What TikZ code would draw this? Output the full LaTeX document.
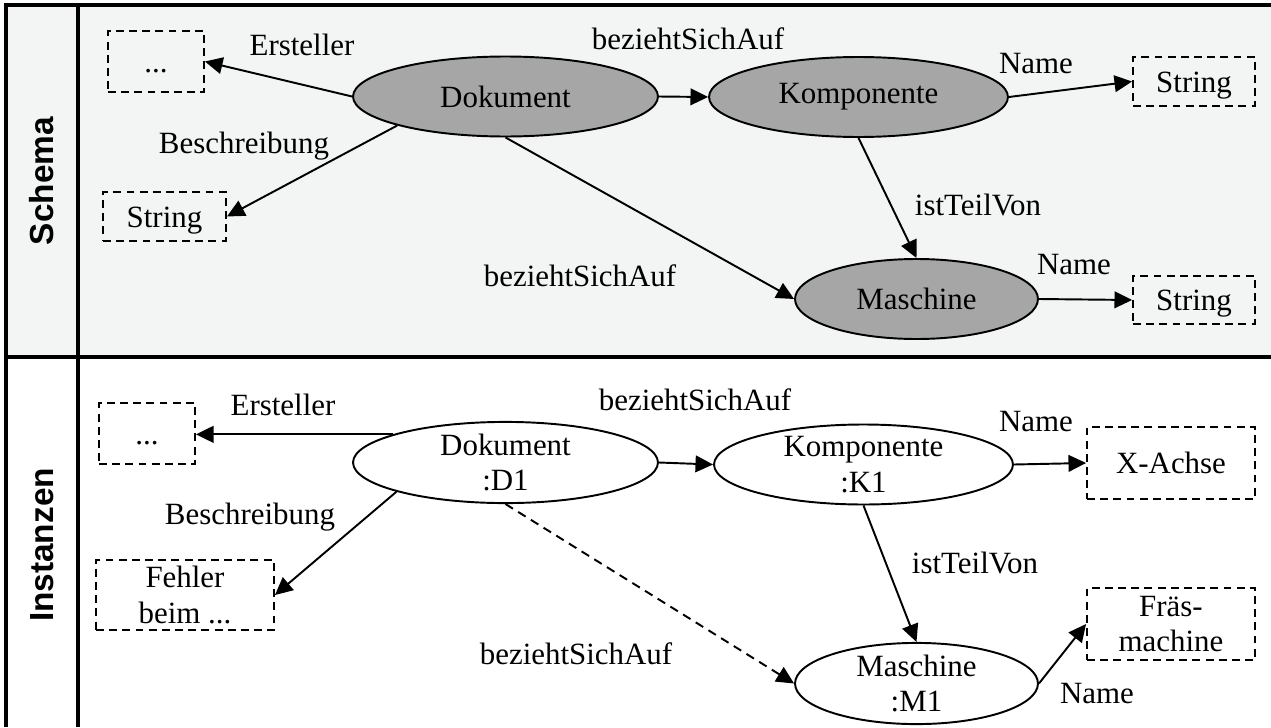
\documentclass[tikz,border=0pt]{standalone}
\usepackage{fontspec}
\setmainfont{Liberation Serif}
\setsansfont{Liberation Sans}
\usepackage{tikz}
\usetikzlibrary{arrows.meta,shapes.geometric}
\definecolor{panelgray}{RGB}{243,244,244}
\definecolor{classgray}{RGB}{166,166,166}
\tikzset{
  % Grundschrift fuer alle Knoten
  every node/.append style={font=\fontsize{17.6}{20.2}\selectfont},
  % Klasse im Schema
  klasse/.style={
    ellipse,
    draw,
    line width=1.1pt,
    fill=classgray,
    inner sep=0pt,
    minimum height=1.6cm
  },
  % Instanz
  instanz/.style={klasse, fill=white, align=center},
  % Wert (Literal)
  wert/.style={
    draw,
    dash pattern=on 4.5pt off 3pt,
    line width=1.1pt,
    inner sep=0pt
  },
  wert1/.style={wert, text height=14pt, text depth=1.8pt},
  wert2/.style={wert, align=center},
  % Beziehung
  arr/.style={-{Triangle[length=10pt,width=9.5pt]}, line width=1.1pt},
  lbl/.style={anchor=base},
  % Zeilenbeschriftung
  rowlab/.style={font=\sffamily\bfseries\fontsize{19}{22}\selectfont, rotate=90},
}

\begin{document}
\begin{tikzpicture}[x=0.02cm, y=-0.02cm]
  \useasboundingbox (0,0) rectangle (1271,727);

  % Rahmen
  \fill[panelgray] (6,5) rectangle (1271,357);
  \draw[line width=2.3pt] (1271,5) -- (6,5) -- (6,727);
  \draw[line width=2.3pt] (78,5) -- (78,727);
  \draw[line width=2.3pt] (6,357) -- (1271,357);
  \node[rowlab] (schema) at (42,181) {Schema};
  \node[rowlab] (inst) at (42,545) {Instanzen};

  % Schema
  \node[klasse, minimum width=6.1cm] (dokS) at (505.5,96.5) {Dokument};
  \node[klasse, minimum width=5.98cm] (kompS) at (858.5,97) {Komponente};
  \node[klasse, minimum width=4.86cm] (maschS) at (916.5,299) {Maschine};
  \node[wert1, minimum width=1.92cm, minimum height=1.22cm] (dotsS) at (156,61.5) {...};
  \node[wert1, minimum width=2.46cm, minimum height=0.98cm] (beschS) at (164.5,216.5) {String};
  \node[wert1, minimum width=2.44cm, minimum height=0.98cm] (nameK) at (1194,81.5) {String};
  \node[wert1, minimum width=2.44cm, minimum height=0.96cm] (nameM) at (1194,300) {String};

  \draw[arr] (dokS.west) -- (dotsS.east);
  \draw[arr] (dokS.195) -- (beschS.east);
  \draw[arr] (dokS.east) -- (kompS.west);
  \draw[arr] (dokS.south) -- (maschS.west);
  \draw[arr] (kompS.south) -- (maschS.north);
  \draw[arr] (kompS.east) -- (nameK.west);
  \draw[arr] (maschS.east) -- (nameM.west);

  \node[lbl] (l1) at (302,55) {Ersteller};
  \node[lbl] (l2) at (244,153) {Beschreibung};
  \node[lbl] (l3) at (688,49) {beziehtSichAuf};
  \node[lbl] (l4) at (580,286) {beziehtSichAuf};
  \node[lbl] (l5) at (978,215) {istTeilVon};
  \node[lbl] (l6) at (1036,73) {Name};
  \node[lbl] (l7) at (1074,274) {Name};

  % Instanzen
  \node[instanz, minimum width=6.1cm] (d1) at (505.5,462.5) {Dokument\\:D1};
  \node[instanz, minimum width=5.98cm] (k1) at (863.5,464.5) {Komponente\\:K1};
  \node[instanz, minimum width=4.86cm] (m1) at (916.5,683.5) {Maschine\\:M1};
  \node[wert1, minimum width=1.92cm, minimum height=1.22cm] (dotsI) at (147,433.5) {...};
  \node[wert2, minimum width=3.56cm, minimum height=1.4cm] (fehler) at (185,595) {Fehler\\beim ...};
  \node[wert1, minimum width=3.36cm, minimum height=1.44cm] (xachse) at (1171,463) {X-Achse};
  \node[wert2, minimum width=3.36cm, minimum height=1.44cm] (fraes) at (1171,624) {Fräs-\\machine};

  \draw[arr] (d1.166) -- (d1.166 -| dotsI.east);
  \draw[arr] (d1.195) -- (fehler.east);
  \draw[arr] (d1.east) -- (k1.west);
  \draw[arr, dash pattern=on 5pt off 3.5pt] (d1.south) -- (m1.west);
  \draw[arr] (k1.south) -- (m1.north);
  \draw[arr] (k1.east) -- (xachse.west);
  \draw[arr] (m1.east) -- (fraes.west);

  \node[lbl] (i1) at (283,415) {Ersteller};
  \node[lbl] (i2) at (250,524) {Beschreibung};
  \node[lbl] (i3) at (695,410) {beziehtSichAuf};
  \node[lbl] (i4) at (576,664) {beziehtSichAuf};
  \node[lbl] (i5) at (975,573) {istTeilVon};
  \node[lbl] (i6) at (1036,431) {Name};
  \node[lbl] (i7) at (1097,703) {Name};
\end{tikzpicture}
\end{document}
